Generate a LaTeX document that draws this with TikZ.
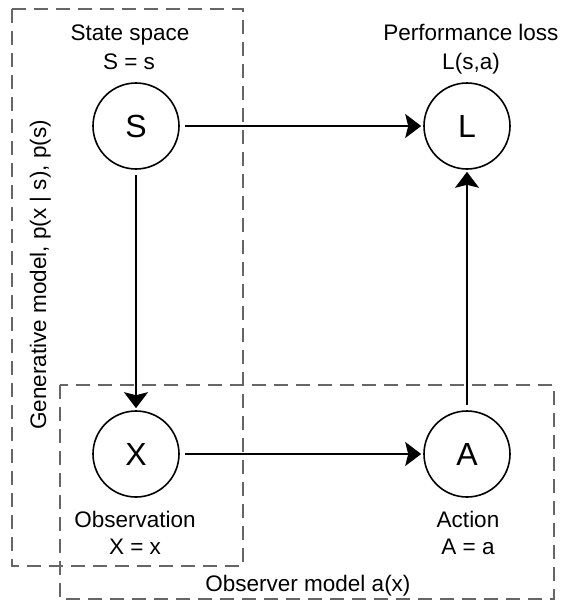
\documentclass[tikz,border=0pt]{standalone}
\usepackage{fontspec}
\setmainfont{Liberation Sans}
\usetikzlibrary{arrows.meta}
\begin{document}
\begin{tikzpicture}[x=1pt,y=-1pt,
  statenode/.style={circle,draw,line width=1.6pt,minimum size=86pt,inner sep=0pt,font=\fontsize{32}{34}\selectfont},
  lbl/.style={anchor=base,font=\fontsize{22.5}{27}\selectfont,inner sep=0pt},
  dashbox/.style={draw=black!60,line width=1.3pt,dash pattern=on 14pt off 8pt},
  conn/.style={line width=1.8pt,shorten <=5pt,shorten >=2pt,-{Stealth[length=16pt,width=24pt,inset=3pt]}}]
\useasboundingbox (0,0) rectangle (566,605);
\draw[dashbox] (12,9) rectangle (243,566);
\draw[dashbox] (60,385) rectangle (554,599);
\node[statenode] (S) at (136,126) {S};
\node[statenode] (L) at (467,126) {L};
\node[statenode] (X) at (136,454) {X};
\node[statenode] (A) at (467,454) {A};
\node[lbl] (tS1) at (130,40) {State space};
\node[lbl] (tS2) at (129,69) {S = s};
\node[lbl] (tL1) at (471,40) {Performance loss};
\node[lbl] (tL2) at (471,69) {L(s,a)};
\node[lbl] (tX1) at (135,527) {Observation};
\node[lbl] (tX2) at (135,554) {X = x};
\node[lbl] (tA1) at (468,527) {Action};
\node[lbl] (tA2) at (468,554) {A = a};
\node[lbl] (tO) at (308,591) {Observer model a(x)};
\node[lbl,rotate=90] (tG) at (46,275) {Generative model, p(x | s), p(s)};
\draw[conn] (S) -- (L);
\draw[conn] (S) -- (X);
\draw[conn] (X) -- (A);
\draw[conn] (A) -- (L);
\end{tikzpicture}
\end{document}
